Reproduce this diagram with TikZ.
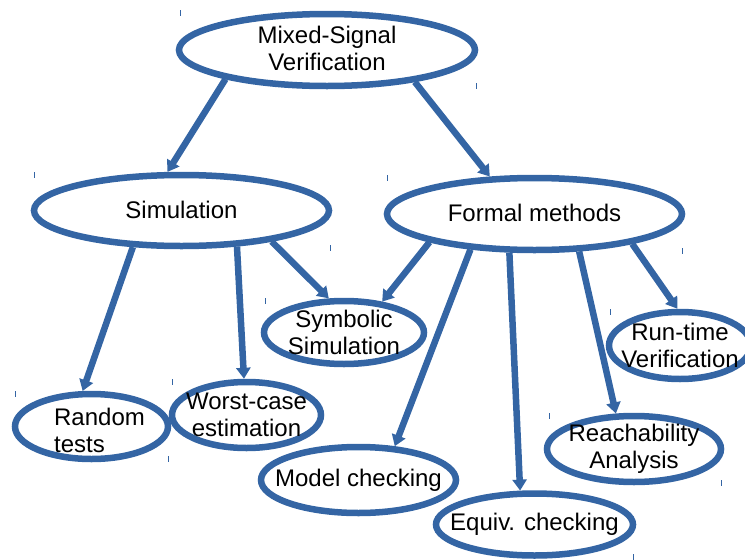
\documentclass[tikz,border=0pt]{standalone}
\usepackage{fontspec}
\setmainfont{Liberation Sans}
\usetikzlibrary{shapes.geometric,arrows.meta}
\definecolor{lob}{HTML}{3465A4}
\begin{document}
\begin{tikzpicture}[x=1pt,y=-1pt,
  oval/.style={ellipse,draw=lob,line width=6.5pt,inner sep=0pt},
  txt/.style={align=center,inner sep=0pt,font=\fontsize{24}{27}\selectfont},
  conn/.style={draw=lob,line width=6.5pt,-{Triangle[length=11pt,width=14pt]}},
  tick/.style={draw=lob,line width=0.8pt}]
\useasboundingbox (0,0) rectangle (745,560);
\node[oval,minimum width=296pt,minimum height=72pt,label={[txt,yshift=2pt]center:Mixed-Signal\\Verification}] (msv) at (327,50) {};
\node[oval,minimum width=295pt,minimum height=71pt,label={[txt,yshift=1pt]center:Simulation}] (sim) at (181.5,210.5) {};
\node[oval,minimum width=295pt,minimum height=72pt,label={[txt,yshift=1pt]center:Formal methods}] (fm) at (534.5,214) {};
\node[oval,minimum width=160pt,minimum height=63pt,label={[txt]center:Symbolic\\Simulation}] (sym) at (344,332.5) {};
\node[oval,minimum width=153pt,minimum height=65pt,label={[txt,align=left,xshift=8pt,yshift=-4pt]center:Random\\tests}] (rnd) at (91.5,426.5) {};
\node[oval,minimum width=149pt,minimum height=66pt,label={[txt]center:Worst-case\\estimation}] (wce) at (246.5,415) {};
\node[oval,minimum width=195pt,minimum height=66pt,label={[txt]center:Model checking}] (mc) at (358.5,480) {};
\node[oval,minimum width=197pt,minimum height=62pt,label={[txt]center:Equiv. checking}] (eq) at (534.5,524.5) {};
\node[oval,minimum width=174pt,minimum height=66pt,label={[txt]center:Reachability\\Analysis}] (ra) at (634,449) {};
\node[oval,minimum width=142pt,minimum height=67pt,label={[txt]center:Run-time\\Verification}] (rt) at (680,345.5) {};
\draw[conn] (msv.196) -- (sim.110.6);
\draw[conn] (msv.340.3) -- (fm.140.5);
\draw[conn] (sim.217.1) -- (rnd.104.6);
\draw[conn] (sim.327.1) -- (wce.94);
\draw[conn] (sim.341.6) -- (sym.114.9);
\draw[conn] (fm.195.8) -- (sym.39.9);
\draw[conn] (fm.209.2) -- (mc.43.8);
\draw[conn] (fm.237.9) -- (eq.113.7);
\draw[conn] (fm.320.9) -- (ra.117.8);
\draw[conn] (fm.343.6) -- (rt.94.7);
\foreach \x/\y in {180/10,476/83,34/172,330/245,387/175,682/248,265/298,15/391,172/379,168/456,610/309,549/413,721/480,633/554}
  \draw[tick] (\x,\y) -- ++(0,6);
\end{tikzpicture}
\end{document}
